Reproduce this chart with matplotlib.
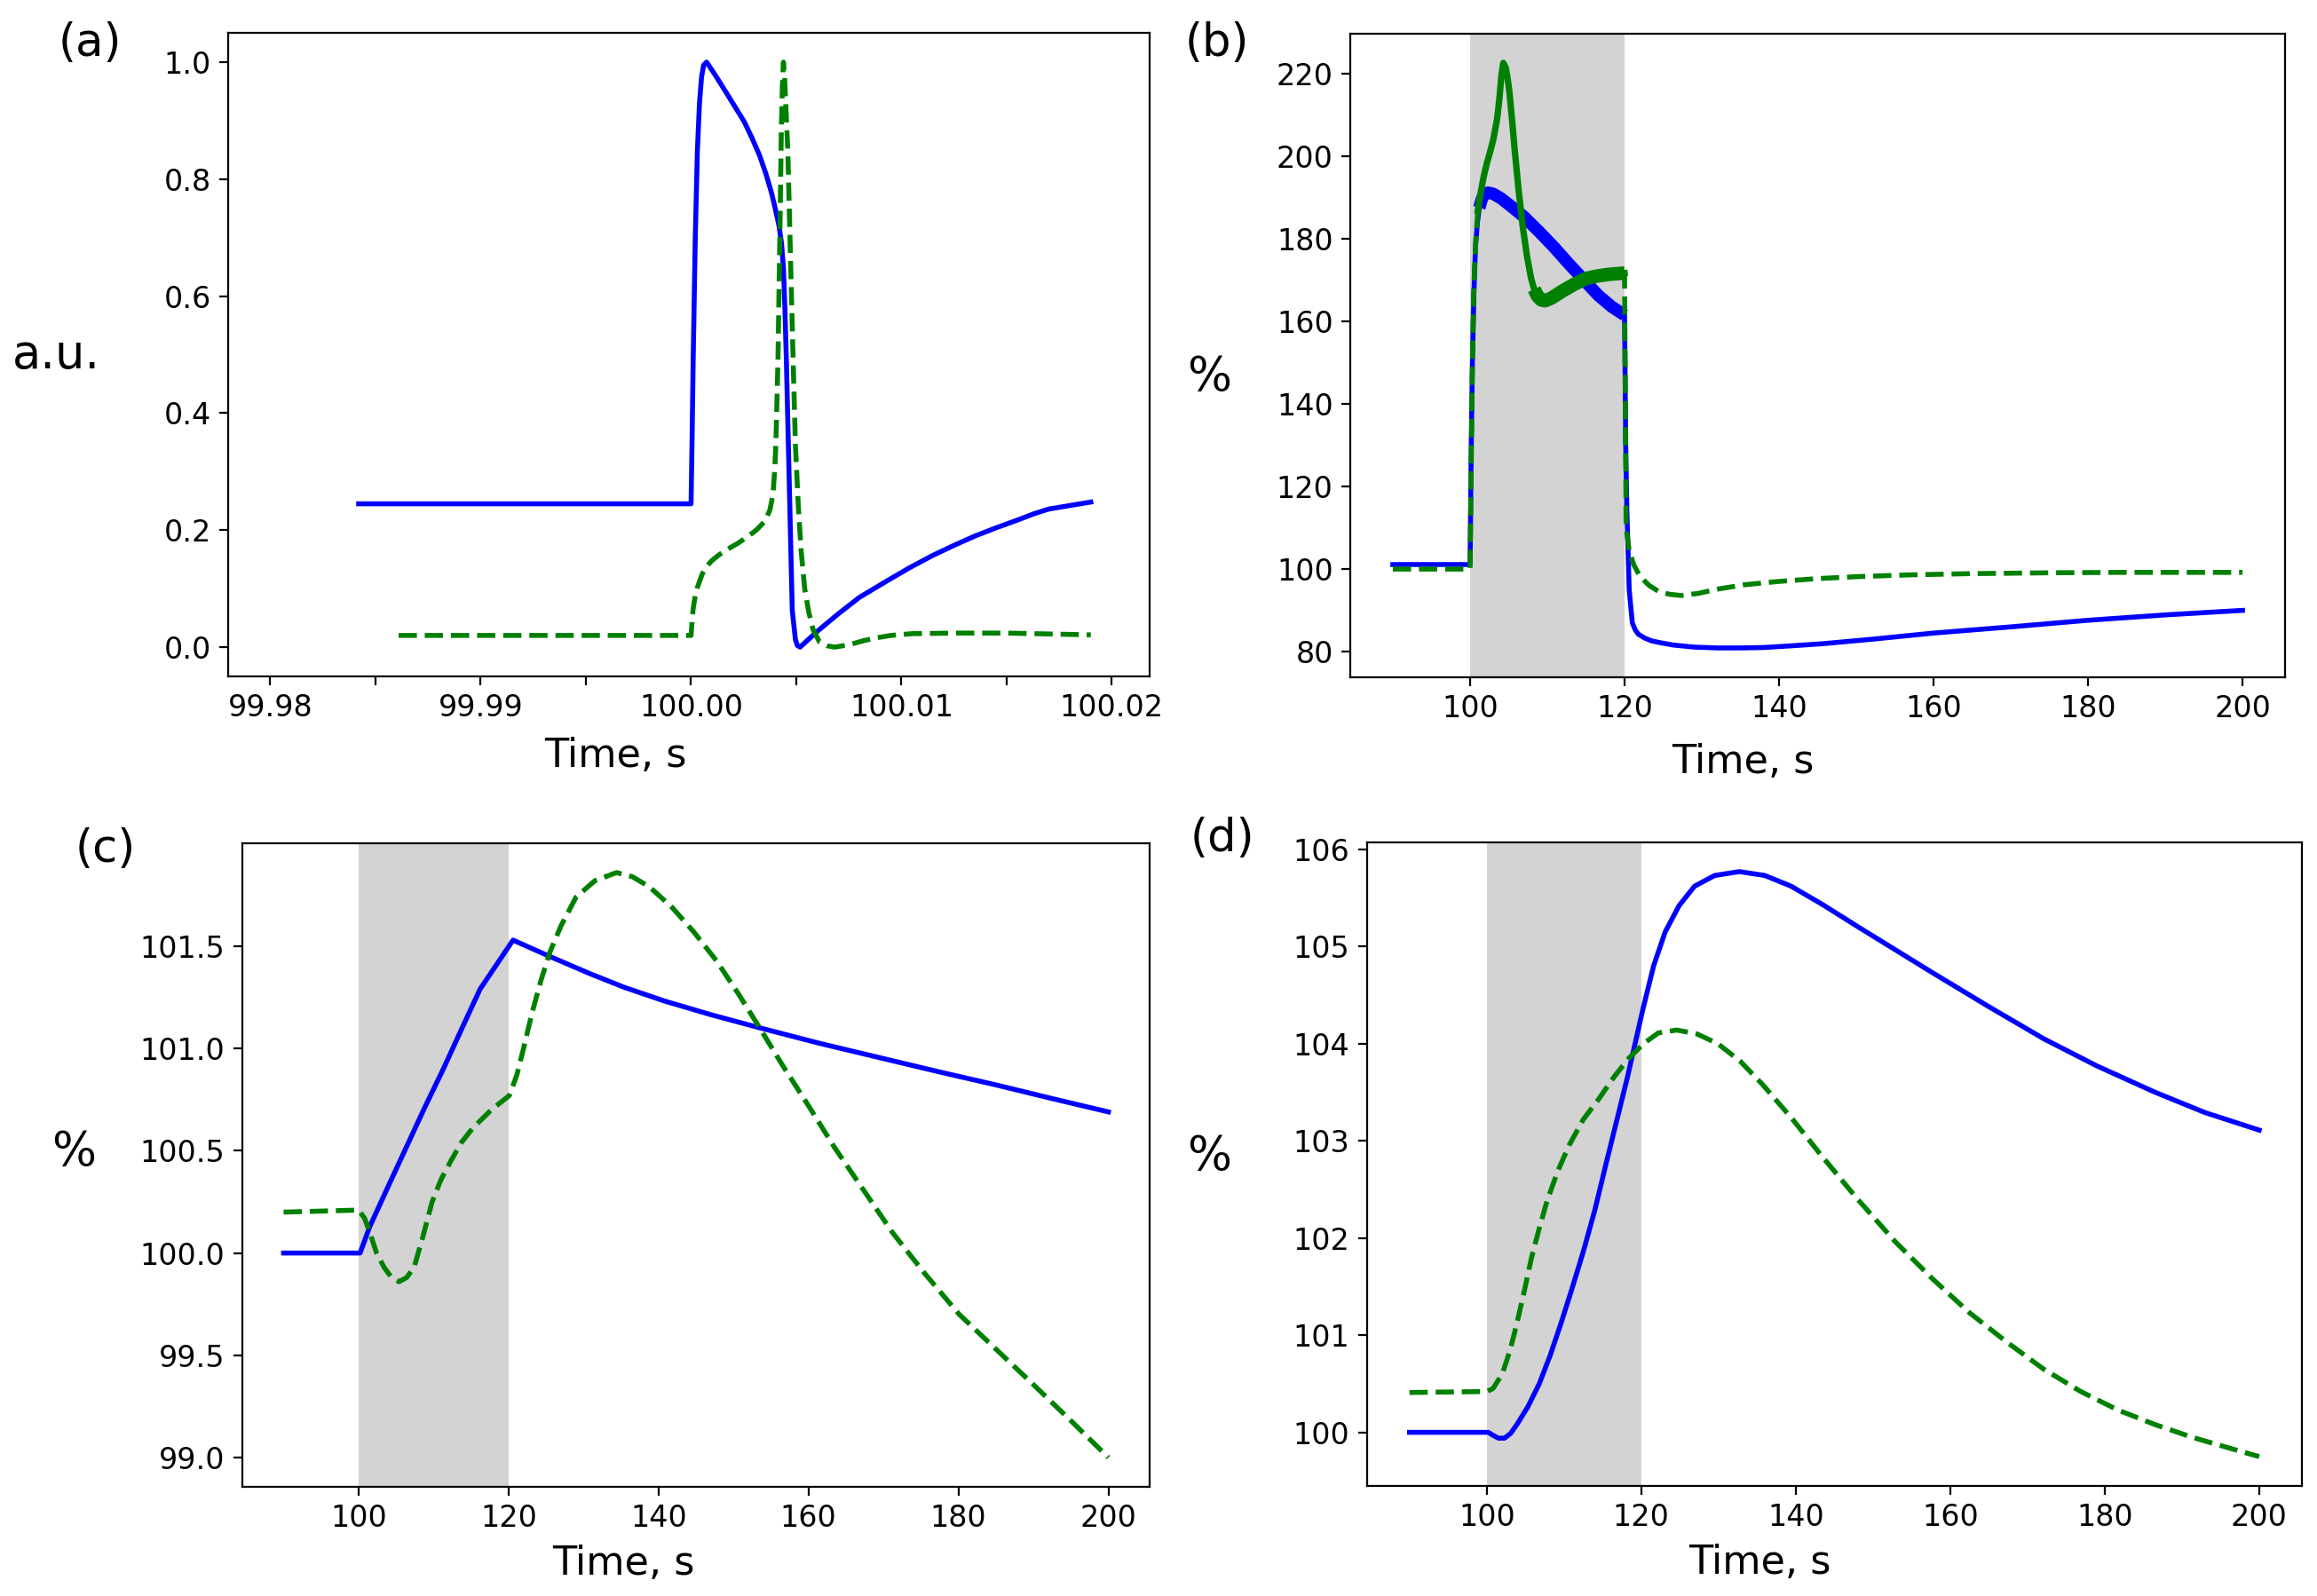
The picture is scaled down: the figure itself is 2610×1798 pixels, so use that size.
import matplotlib.pyplot as plt
from matplotlib.ticker import FormatStrFormatter

plt.rcParams['font.family'] = ['DejaVu Sans']

# ---- (a) single beat, a.u.
ta_blue = [99.9842, 100.0000, 100.00005, 100.0001, 100.0002, 100.0003, 100.0004, 100.0005,
           100.0006, 100.00074, 100.0012, 100.00167, 100.0021, 100.00253, 100.0029, 100.00325,
           100.00355, 100.00382, 100.0040, 100.00418, 100.0043, 100.00439, 100.00446, 100.00453,
           100.00467, 100.00481, 100.00496, 100.00505, 100.00518, 100.006, 100.007, 100.008,
           100.0093, 100.0104, 100.0115, 100.0125, 100.0135, 100.0145, 100.0155, 100.0163,
           100.0170, 100.018, 100.0190]
ya_blue = [0.245, 0.245, 0.36, 0.49, 0.70, 0.848, 0.93, 0.975,
           0.995, 1.0, 0.975, 0.948, 0.923, 0.898, 0.87, 0.841,
           0.81, 0.777, 0.75, 0.72, 0.69, 0.648, 0.58, 0.49,
           0.277, 0.063, 0.013, 0.003, 0.0, 0.027, 0.057, 0.085,
           0.113, 0.136, 0.157, 0.174, 0.19, 0.204, 0.217, 0.228,
           0.236, 0.242, 0.248]
ta_green = [99.9861, 100.0000, 100.00005, 100.0001, 100.0002, 100.0003, 100.00053, 100.00075,
            100.00096, 100.0013, 100.00167, 100.0022, 100.00266, 100.0031, 100.00353, 100.00375,
            100.00389, 100.00397, 100.00403, 100.00413, 100.00422, 100.00429, 100.00434, 100.00439,
            100.00445, 100.0046, 100.00475, 100.00486, 100.00496, 100.0051, 100.00523, 100.0054,
            100.0056, 100.0058, 100.0061, 100.0065, 100.00682, 100.0075, 100.0082, 100.00882,
            100.0095, 100.0105, 100.0125, 100.015, 100.019]
ya_green = [0.02, 0.02, 0.045, 0.066, 0.088, 0.102, 0.125, 0.138,
            0.147, 0.157, 0.166, 0.177, 0.188, 0.2, 0.216, 0.235,
            0.26, 0.3, 0.345, 0.489, 0.703, 0.882, 0.96, 1.0,
            0.97, 0.847, 0.632, 0.48, 0.345, 0.24, 0.166, 0.10,
            0.059, 0.03, 0.009, 0.002, 0.0, 0.004, 0.011, 0.016,
            0.02, 0.023, 0.024, 0.024, 0.021]

# ---- (b)
tb_blue = [90, 100.0, 100.15, 100.3, 100.5, 100.7, 100.95, 101.2, 101.5, 101.8, 102.3, 103.0,
           104.0, 105.1, 107.0, 108.9, 110.9, 112.8, 114.7, 116.6, 118.3, 120.0,
           120.15, 120.3, 120.6, 121.0, 121.4, 121.8, 122.6, 123.5, 124.8, 126.3, 129.0,
           132.0, 135.0, 138.0, 141.5, 145.5, 152.0, 160.0, 170.0, 180.0, 190.0, 200.0]
yb_blue = [101.1, 101.1, 130, 150, 167, 178, 184, 187.5, 189.5, 190.8, 191.2, 190.9,
           189.8, 188.2, 185.3, 181.8, 177.9, 173.9, 170.1, 166.3, 163.6, 161.5,
           130, 114, 95, 87, 85.2, 84.2, 83.3, 82.6, 82.1, 81.6, 81.1,
           80.9, 80.9, 81.0, 81.4, 81.9, 83.0, 84.5, 86.0, 87.6, 88.9, 90.0]
tb_green = [90, 100.0, 100.3, 100.5, 100.75, 101.0, 101.4, 101.8, 102.2, 102.6, 103.0, 103.5,
            103.8, 104.05, 104.3, 104.6, 104.85, 105.1, 105.45, 105.8, 106.3, 106.8, 107.35,
            107.9, 108.3, 108.7, 109.2, 109.7, 110.5, 112.0, 113.5, 115.0, 116.5, 118.0, 120.0,
            120.2, 120.6, 121.2, 122.0, 123.2, 124.4, 125.8, 127.3, 129.5, 132.2, 135.5,
            139.9, 145.0, 150.5, 157.0, 164.9, 175.0, 184.1, 200.0]
yb_green = [100, 100, 150, 168.9, 180, 186.8, 191.5, 195.4, 198.5, 201.1, 204, 209,
            214, 219.5, 222.6, 221.5, 219, 215.4, 208.5, 201, 191.5, 183.2, 176,
            170.4, 167.8, 166.2, 165.2, 165, 165.6, 167.4, 169, 170.4, 171, 171.4, 171.7,
            110, 104.4, 101, 98.2, 96, 94.6, 93.9, 93.6, 94.1, 95.2, 96.2,
            97.0, 97.7, 98.2, 98.6, 98.9, 99.1, 99.2, 99.2]

# ---- (c)
tc_blue = [90, 100.2, 101.5, 104.0, 106.4, 108.8, 111.3, 113.8, 116.2, 120.6,
           121.5, 125.5, 130.9, 135.5, 140.8, 147.0, 153.6, 161.5, 170.3, 177.5, 185.0,
           192.5, 200]
yc_blue = [100.0, 100.0, 100.13, 100.33, 100.52, 100.71, 100.90, 101.10, 101.29, 101.53,
           101.515, 101.45, 101.365, 101.298, 101.232, 101.165, 101.1, 101.025, 100.948, 100.885,
           100.822, 100.755, 100.69]
tc_green = [90, 95, 100, 100.8, 101.5, 102.4, 103.4, 104.4, 105.4, 106.4, 107.4, 108.5,
            109.8, 111.0, 112.3, 113.7, 115.2, 117.7, 120.1, 121.1, 122.0, 123.1, 124.3,
            125.5, 127.0, 129.0, 131.5, 134.4, 136.5, 138.8, 141.8, 144.7, 147.7, 150.6,
            153.5, 156.5, 160.0, 163.4, 167.3, 171.2, 175.5, 180.1, 185.0, 189.9, 195.0, 200]
yc_green = [100.2, 100.205, 100.21, 100.17, 100.10, 100.0, 99.93, 99.88, 99.86, 99.88, 99.93, 100.07,
            100.25, 100.36, 100.45, 100.54, 100.61, 100.70, 100.77, 100.87, 101.0, 101.17, 101.33,
            101.47, 101.6, 101.74, 101.82, 101.86, 101.84, 101.79, 101.69, 101.57, 101.43, 101.27,
            101.1, 100.92, 100.72, 100.52, 100.31, 100.10, 99.9, 99.70, 99.53, 99.36, 99.18, 99.0]

# ---- (d)
td_blue = [90, 100.2, 100.8, 101.5, 102.3, 103.1, 103.9, 105.3, 106.8, 108.2, 109.6, 111.0,
           112.5, 114.0, 115.4, 116.8, 118.2, 119.2, 120.2, 121.6, 123.1, 124.9, 126.9,
           129.5, 132.7, 136.0, 139.4, 143.5, 148.1, 153.0, 157.7, 165.0, 172.1, 179.0,
           186.5, 193.0, 200]
yd_blue = [100, 100, 99.97, 99.94, 99.94, 99.99, 100.08, 100.26, 100.50, 100.79, 101.12, 101.47,
           101.86, 102.29, 102.75, 103.2, 103.65, 104.0, 104.35, 104.8, 105.15, 105.42, 105.62,
           105.73, 105.77, 105.73, 105.62, 105.43, 105.2, 104.96, 104.73, 104.38, 104.05, 103.77,
           103.5, 103.29, 103.11]
td_green = [90, 100, 100.8, 102.0, 103.0, 103.9, 104.9, 105.8, 106.8, 107.8, 109.2, 110.7,
            112.5, 114.5, 116.5, 118.4, 120.3, 122.2, 124.6, 127.2, 129.9, 132.8, 135.7,
            139.5, 143.3, 148.0, 152.9, 157.7, 162.5, 167.3, 172.1, 176.9, 181.7, 186.5,
            191.3, 195.6, 200]
yd_green = [100.41, 100.42, 100.45, 100.60, 100.84, 101.12, 101.47, 101.80, 102.1, 102.38, 102.69, 102.96,
            103.22, 103.43, 103.66, 103.85, 104.0, 104.11, 104.14, 104.1, 104.0, 103.82, 103.58,
            103.23, 102.85, 102.4, 101.96, 101.58, 101.23, 100.93, 100.65, 100.42, 100.23, 100.08,
            99.95, 99.85, 99.75]

pulse = (100, 120)
lw = 2.0
tick_fs = 12
xlab_fs = 16
ylab_fs = 19
panel_fs = 18.5


def segment(t, y, t0, t1):
    pts = [(a, b) for a, b in zip(t, y) if t0 <= a <= t1]
    return [p[0] for p in pts], [p[1] for p in pts]


fig = plt.figure(figsize=(13.05, 8.99), dpi=200)
ax_a = fig.add_axes([0.0985, 0.5762, 0.3977, 0.4032])
ax_b = fig.add_axes([0.5828, 0.5757, 0.4034, 0.4032])
ax_c = fig.add_axes([0.1046, 0.0684, 0.3916, 0.4032])
ax_d = fig.add_axes([0.5900, 0.0690, 0.4034, 0.4032])

# (a)
ax_a.plot(ta_blue, ya_blue, color='b', lw=lw)
ax_a.plot(ta_green, ya_green, color='g', lw=lw, ls='--')
ax_a.set_xlim(99.978, 100.0218)
ax_a.set_xticks([99.98, 99.99, 100.00, 100.01, 100.02])
ax_a.set_xticks([99.985, 99.995, 100.005, 100.015], minor=True)
ax_a.xaxis.set_major_formatter(FormatStrFormatter('%.2f'))
ax_a.tick_params(which='minor', length=3.5, width=0.8)
ax_a.set_yticks([0.0, 0.2, 0.4, 0.6, 0.8, 1.0])
ax_a.set_ylabel('a.u.')

# (b) - the thick parts are the fast oscillation inside the pulse
ax_b.axvspan(*pulse, color='lightgrey', lw=0)
ax_b.plot(tb_blue, yb_blue, color='b', lw=lw)
ax_b.plot(*segment(tb_blue, yb_blue, 101.2, 120.0), color='b', lw=5, solid_capstyle='butt')
ax_b.plot(tb_green, yb_green, color='g', lw=lw, ls='--')
ax_b.plot(*segment(tb_green, yb_green, 100.9, 120.0), color='g', lw=2.6)
ax_b.plot(*segment(tb_green, yb_green, 108.3, 120.0), color='g', lw=5.5, solid_capstyle='butt')
ax_b.set_yticks(range(80, 221, 20))
ax_b.set_ylabel('%')

# (c)
ax_c.axvspan(*pulse, color='lightgrey', lw=0)
ax_c.plot(tc_blue, yc_blue, color='b', lw=lw)
ax_c.plot(tc_green, yc_green, color='g', lw=lw, ls='--')
ax_c.set_yticks([99.0, 99.5, 100.0, 100.5, 101.0, 101.5])
ax_c.set_ylabel('%')

# (d)
ax_d.axvspan(*pulse, color='lightgrey', lw=0)
ax_d.plot(td_blue, yd_blue, color='b', lw=lw)
ax_d.plot(td_green, yd_green, color='g', lw=lw, ls='--')
ax_d.set_yticks(range(100, 107))
ax_d.set_ylabel('%')

for ax in (ax_b, ax_c, ax_d):
    ax.set_xticks(range(100, 201, 20))

ylab_x = {ax_a: -0.187, ax_b: -0.151, ax_c: -0.186, ax_d: -0.169}
ylab_y = {ax_a: 0.5, ax_b: 0.466, ax_c: 0.52, ax_d: 0.512}
xlab_y = {ax_a: -0.124, ax_b: -0.132, ax_c: -0.119, ax_d: -0.12}
for ax in (ax_a, ax_b, ax_c, ax_d):
    ax.tick_params(labelsize=tick_fs)
    ax.set_xlabel('Time, s', fontsize=xlab_fs, va='center')
    ax.xaxis.set_label_coords(0.42, xlab_y[ax])
    ax.yaxis.label.set_fontsize(ylab_fs)
    ax.yaxis.label.set_rotation(0)
    ax.yaxis.label.set_va('center')
    ax.yaxis.label.set_ha('center')
    ax.yaxis.set_label_coords(ylab_x[ax], ylab_y[ax])

fig.text(0.039, 0.9727, '(a)', fontsize=panel_fs, ha='center', va='center')
fig.text(0.5253, 0.9727, '(b)', fontsize=panel_fs, ha='center', va='center')
fig.text(0.0456, 0.4675, '(c)', fontsize=panel_fs, ha='center', va='center')
fig.text(0.5276, 0.4746, '(d)', fontsize=panel_fs, ha='center', va='center')

fig.savefig('out.png', dpi=200)
